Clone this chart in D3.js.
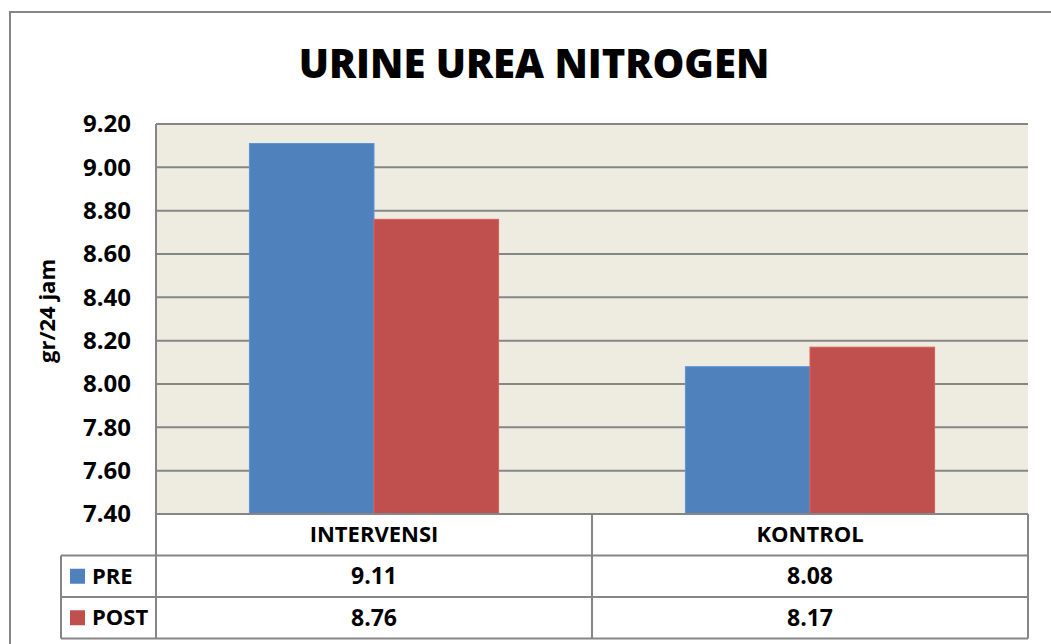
<!DOCTYPE html>
<html>
<head>
<meta charset="utf-8">
<script src="https://cdn.jsdelivr.net/npm/d3@7"></script>
<style>
  body { margin: 0; background: #fff; }
  svg text { font-family: "Open Sans", "Noto Sans", sans-serif; font-weight: bold; fill: #000; }
</style>
</head>
<body>
<div id="chart"></div>
<script>
const categories = ["INTERVENSI", "KONTROL"];
const seriesNames = ["PRE", "POST"];
const preValues = [9.11, 8.08];
const postValues = [8.76, 8.17];
const yTicks = [7.4, 7.6, 7.8, 8.0, 8.2, 8.4, 8.6, 8.8, 9.0, 9.2];
const title = "URINE UREA NITROGEN";
const yLabel = "gr/24 jam";

const colors = { PRE: "#4F81BD", POST: "#C0504D" };
const grid = "#868686";

const W = 1051, H = 644;
const plot = { left: 156, right: 1028, top: 124, bottom: 514 };
const rowH = 41.5;
const legendLeft = 61;

const svg = d3.select("#chart").append("svg").attr("width", W).attr("height", H);

// outer chart border (runs off the right/bottom edge)
svg.append("rect")
  .attr("x", 10).attr("y", 12).attr("width", W + 20).attr("height", H + 20)
  .attr("fill", "#fff").attr("stroke", grid).attr("stroke-width", 2);

svg.append("text")
  .attr("x", 534).attr("y", 78)
  .attr("text-anchor", "middle")
  .style("font-size", "40px")
  .style("font-weight", 800)
  .text(title);

const x = d3.scaleBand().domain(categories).range([plot.left, plot.right]).padding(0);
const xs = d3.scaleBand().domain(seriesNames).range([0, x.bandwidth()])
  .paddingInner(0).paddingOuter(0.75);
const y = d3.scaleLinear().domain([7.4, 9.2]).range([plot.bottom, plot.top]);

// plot background
svg.append("rect")
  .attr("x", plot.left).attr("y", plot.top)
  .attr("width", plot.right - plot.left).attr("height", plot.bottom - plot.top)
  .attr("fill", "#EEEBE1");

// gridlines
svg.append("g").selectAll("line")
  .data(yTicks)
  .join("line")
  .attr("x1", plot.left).attr("x2", plot.right)
  .attr("y1", d => y(d)).attr("y2", d => y(d))
  .attr("stroke", grid).attr("stroke-width", 2);

// y axis labels
const yAxis = svg.append("g")
  .attr("transform", `translate(${plot.left},0)`)
  .call(d3.axisLeft(y).tickValues(yTicks).tickFormat(d3.format(".2f")).tickSize(0).tickPadding(25));
yAxis.select(".domain").remove();
yAxis.selectAll("text").style("font-size", "24px").attr("font-family", null);

svg.append("text")
  .attr("transform", "translate(55,311) rotate(-90)")
  .attr("text-anchor", "middle")
  .style("font-size", "22px")
  .text(yLabel);

// bars
const rows = categories.map((c, i) => ({ cat: c, PRE: preValues[i], POST: postValues[i] }));
const groups = svg.append("g").selectAll("g")
  .data(rows)
  .join("g")
  .attr("transform", d => `translate(${x(d.cat)},0)`);
groups.selectAll("rect")
  .data(d => seriesNames.map(s => ({ s, v: d[s] })))
  .join("rect")
  .attr("x", d => xs(d.s))
  .attr("y", d => y(d.v))
  .attr("width", xs.bandwidth())
  .attr("height", d => y(7.4) - y(d.v))
  .attr("fill", d => colors[d.s])
  .attr("stroke", d => d3.color(colors[d.s]).brighter(0.4))
  .attr("stroke-width", 1);

// left edge of plot area
svg.append("line")
  .attr("x1", plot.left).attr("x2", plot.left)
  .attr("y1", plot.top).attr("y2", plot.bottom + rowH * 3)
  .attr("stroke", grid).attr("stroke-width", 2);

// data table
const table = svg.append("g");
const tTop = plot.bottom;
const lineAttrs = sel => sel.attr("stroke", grid).attr("stroke-width", 2);

// horizontal lines
[0, 1, 2, 3].forEach(i => {
  table.append("line")
    .attr("x1", i === 0 ? plot.left : legendLeft).attr("x2", plot.right)
    .attr("y1", tTop + i * rowH).attr("y2", tTop + i * rowH)
    .call(lineAttrs);
});
// vertical lines
table.append("line")
  .attr("x1", legendLeft).attr("x2", legendLeft)
  .attr("y1", tTop + rowH).attr("y2", tTop + rowH * 3)
  .call(lineAttrs);
table.selectAll(".vcol")
  .data(categories)
  .join("line")
  .attr("class", "vcol")
  .attr("x1", d => x(d) + x.bandwidth()).attr("x2", d => x(d) + x.bandwidth())
  .attr("y1", tTop).attr("y2", tTop + rowH * 3)
  .call(lineAttrs);

// header
table.selectAll(".hdr")
  .data(categories)
  .join("text")
  .attr("class", "hdr")
  .attr("x", d => x(d) + x.bandwidth() / 2)
  .attr("y", tTop + rowH / 2)
  .attr("dy", "0.35em")
  .attr("text-anchor", "middle")
  .style("font-size", "22px")
  .text(d => d);

// value rows
seriesNames.forEach((s, r) => {
  const cy = tTop + rowH * (r + 1) + rowH / 2;
  table.append("rect")
    .attr("x", 70).attr("y", cy - 7.5)
    .attr("width", 15).attr("height", 15)
    .attr("fill", colors[s]);
  table.append("text")
    .attr("x", 92).attr("y", cy).attr("dy", "0.35em")
    .style("font-size", "22px")
    .text(s);
  table.selectAll(".v" + s)
    .data(rows)
    .join("text")
    .attr("class", "v" + s)
    .attr("x", d => x(d.cat) + x.bandwidth() / 2)
    .attr("y", cy).attr("dy", "0.35em")
    .attr("text-anchor", "middle")
    .style("font-size", "23px")
    .text(d => d3.format(".2f")(d[s]));
});
</script>
</body>
</html>
